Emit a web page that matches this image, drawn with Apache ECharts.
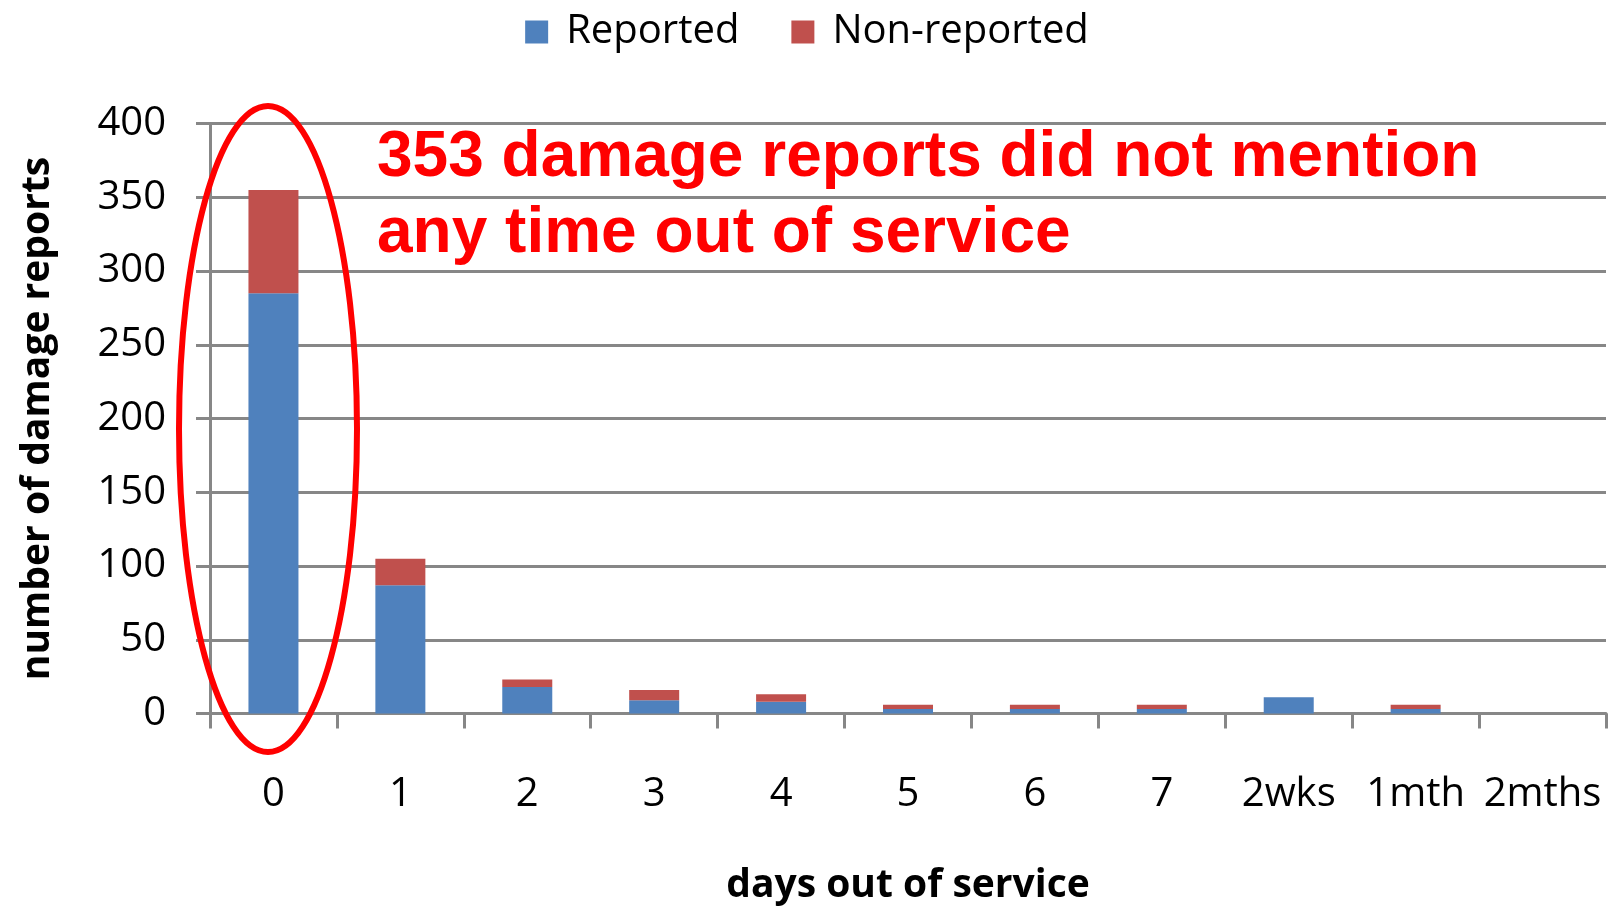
<!DOCTYPE html>
<html>
<head>
<meta charset="utf-8">
<script src="https://cdn.jsdelivr.net/npm/echarts@6/dist/echarts.min.js"></script>
<style>
html,body{margin:0;padding:0;background:#fff;}
#c{width:1614px;height:908px;}
</style>
</head>
<body>
<div id="c"></div>
<script>
const categories = ['0', '1', '2', '3', '4', '5', '6', '7', '2wks', '1mth', '2mths'];
const reported = [285, 87, 18, 9, 8, 3, 3, 3, 11, 3, 0];
const nonReported = [70, 18, 5, 7, 5, 3, 3, 3, 0, 3, 0];
const seriesNames = ['Reported', 'Non-reported'];
const yTicks = { min: 0, max: 400, interval: 50 };
const annotationLines = ['353 damage reports did not mention', 'any time out of service'];

const chart = echarts.init(document.getElementById('c'), null, { renderer: 'canvas' });
const gray = '#878787';
const font = 'Open Sans';
chart.setOption({
  animation: false,
  backgroundColor: '#fff',
  color: ['#4F81BD', '#C0504D'],
  legend: {
    data: seriesNames,
    left: 'center',
    top: 7,
    itemWidth: 23,
    itemHeight: 23,
    itemGap: 52,
    icon: 'rect',
    textStyle: { fontFamily: font, fontSize: 40, color: '#000', lineHeight: 40, padding: [0, 0, 0, 13] }
  },
  grid: { left: 210, right: 8, top: 123.5, bottom: 194.5, containLabel: false, outerBoundsMode: 'none' },
  xAxis: {
    type: 'category',
    data: categories,
    name: 'days out of service',
    nameLocation: 'middle',
    nameGap: 153,
    nameTextStyle: { fontFamily: font, fontSize: 39, fontWeight: 'bold', color: '#000' },
    axisLine: { lineStyle: { color: gray, width: 3 } },
    axisTick: { show: true, interval: 0, length: 15, lineStyle: { color: gray, width: 3 } },
    axisLabel: { interval: 0, fontFamily: font, fontSize: 40, color: '#000', margin: 61 }
  },
  yAxis: {
    type: 'value',
    min: yTicks.min, max: yTicks.max, interval: yTicks.interval,
    name: 'number of damage reports',
    nameLocation: 'middle',
    nameGap: 153,
    nameTextStyle: { fontFamily: font, fontSize: 39, fontWeight: 'bold', color: '#000' },
    axisLine: { show: true, lineStyle: { color: gray, width: 3 } },
    axisTick: { show: true, length: 14, lineStyle: { color: gray, width: 3 } },
    axisLabel: { fontFamily: font, fontSize: 40, color: '#000', margin: 44 },
    splitLine: { show: true, lineStyle: { color: gray, width: 3 } }
  },
  series: [
    { name: seriesNames[0], type: 'bar', stack: 'a', data: reported, barWidth: 50 },
    { name: seriesNames[1], type: 'bar', stack: 'a', data: nonReported, barWidth: 50 }
  ],
  graphic: [
    { type: 'ellipse', shape: { cx: 268, cy: 429, rx: 89, ry: 323 }, style: { fill: 'none', stroke: '#FF0000', lineWidth: 6 }, z: 100 },
    { type: 'text', left: 377, top: 126, style: { text: annotationLines[0], fill: '#FF0000', font: 'bold 64px "Liberation Sans", Arial, sans-serif' }, z: 100 },
    { type: 'text', left: 377, top: 202, style: { text: annotationLines[1], fill: '#FF0000', font: 'bold 64px "Liberation Sans", Arial, sans-serif' }, z: 100 }
  ]
});
</script>
</body>
</html>
